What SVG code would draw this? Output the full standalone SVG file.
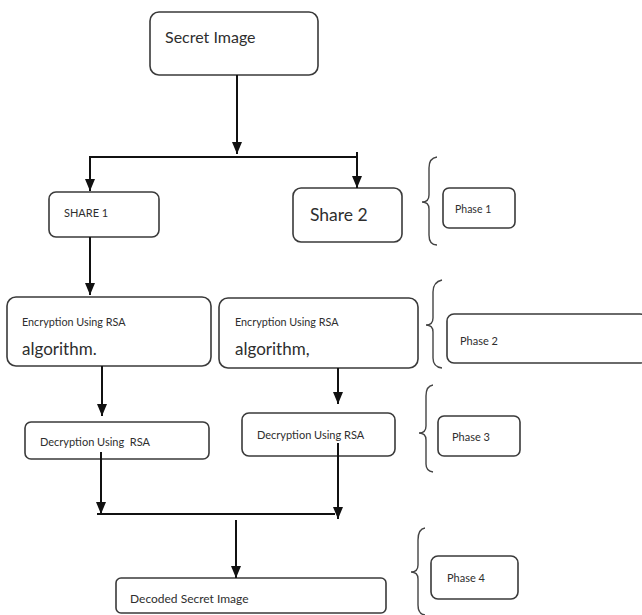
<svg xmlns="http://www.w3.org/2000/svg" width="642" height="615" viewBox="0 0 642 615">
<style>
.box{fill:#fff;stroke:#3a3a3a;stroke-width:1.6}
.ln{fill:none;stroke:#111;stroke-width:2}
.br{fill:none;stroke:#444;stroke-width:1.4}
text{font-family:Lato,"Open Sans","Liberation Sans",sans-serif;fill:#2e2e2e;white-space:pre}
</style>
<defs>
<marker id="ah" viewBox="0 0 12 10" refX="12" refY="5" markerWidth="12" markerHeight="10" markerUnits="userSpaceOnUse" orient="auto">
<path d="M0,0 L12,5 L0,10 Z" fill="#111"/>
</marker>
</defs>
<rect width="642" height="615" fill="#fff"/>

<g id="secret-image">
<rect class="box" x="150" y="12" width="168" height="63" rx="9"/>
<text x="165" y="43" font-size="16">Secret Image</text>
</g>
<g id="share1">
<rect class="box" x="49" y="192" width="110" height="45" rx="7"/>
<text x="64" y="217" font-size="11">SHARE 1</text>
</g>
<g id="share2">
<rect class="box" x="293" y="188" width="109" height="54" rx="8"/>
<text x="310" y="221" font-size="17.5">Share 2</text>
</g>
<g id="enc1">
<rect class="box" x="7" y="297" width="204" height="69" rx="9"/>
<text x="22" y="326" font-size="10.8">Encryption Using RSA</text>
<text x="22" y="355" font-size="17">algorithm.</text>
</g>
<g id="enc2">
<rect class="box" x="219" y="298" width="199" height="70" rx="9"/>
<text x="235" y="326" font-size="10.8">Encryption Using RSA</text>
<text x="235" y="355" font-size="17">algorithm,</text>
</g>
<g id="dec1">
<rect class="box" x="25" y="422" width="184" height="37" rx="6"/>
<text x="40" y="446" font-size="11">Decryption Using  RSA</text>
</g>
<g id="dec2">
<rect class="box" x="242" y="413" width="153" height="43" rx="7"/>
<text x="257" y="439" font-size="11">Decryption Using RSA</text>
</g>
<g id="decoded">
<rect class="box" x="116" y="578" width="270" height="35" rx="5"/>
<text x="130" y="603" font-size="12">Decoded Secret Image</text>
</g>

<g id="phase1">
<path class="br" d="M437,157 Q429,158 429,168 L429,195 Q429,202 422,202 Q429,202 429,209 L429,235 Q429,245 437,245"/>
<rect class="box" x="443" y="188" width="72" height="40" rx="6"/>
<text x="455" y="213" font-size="10.5">Phase 1</text>
</g>
<g id="phase2">
<path class="br" d="M442,280 Q433,282 433,292 L433,318 Q433,325 426,325 Q433,325 433,332 L433,358 Q433,367 442,368"/>
<rect class="box" x="447" y="314" width="200" height="49" rx="7"/>
<text x="460" y="345" font-size="11">Phase 2</text>
</g>
<g id="phase3">
<path class="br" d="M433,385 Q426,386 426,396 L426,426 Q426,433 419,433 Q426,433 426,440 L426,464 Q426,471 433,472"/>
<rect class="box" x="438" y="416" width="82" height="40" rx="6"/>
<text x="452" y="441" font-size="11">Phase 3</text>
</g>
<g id="phase4">
<path class="br" d="M425,528 Q418,529 418,540 L418,565 Q418,572 411,572 Q418,572 418,579 L418,605 Q418,614 425,615"/>
<rect class="box" x="431" y="556" width="87" height="43" rx="7"/>
<text x="447" y="582" font-size="11">Phase 4</text>
</g>

<g id="connectors">
<line class="ln" x1="237" y1="75" x2="237" y2="154" marker-end="url(#ah)"/>
<polyline class="ln" points="90,165 90,157 357,157"/>
<line class="ln" x1="90" y1="160" x2="90" y2="191" marker-end="url(#ah)"/>
<line class="ln" x1="357" y1="152" x2="357" y2="188" marker-end="url(#ah)"/>
<line class="ln" x1="90" y1="237" x2="90" y2="295" marker-end="url(#ah)"/>
<line class="ln" x1="102" y1="366" x2="102" y2="416" marker-end="url(#ah)"/>
<line class="ln" x1="338" y1="368" x2="338" y2="404" marker-end="url(#ah)"/>
<line class="ln" x1="101" y1="452" x2="101" y2="514" marker-end="url(#ah)"/>
<line class="ln" x1="338" y1="443" x2="338" y2="519" marker-end="url(#ah)"/>
<line class="ln" x1="97" y1="514" x2="335" y2="514"/>
<line class="ln" x1="236" y1="520" x2="236" y2="578" marker-end="url(#ah)"/>
</g>
</svg>
